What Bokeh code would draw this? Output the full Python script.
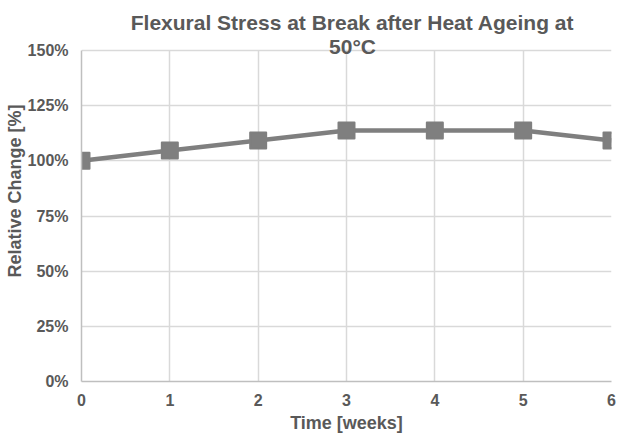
from bokeh.plotting import figure
from bokeh.models import FixedTicker, PrintfTickFormatter, Label, Range1d
from bokeh.embed import file_html
from bokeh.resources import INLINE

weeks = [0, 1, 2, 3, 4, 5, 6]
stress = [100, 104.7, 109.2, 113.7, 113.7, 113.7, 109.2]
y_ticks = [0, 25, 50, 75, 100, 125, 150]
title_lines = ["Flexural Stress at Break after Heat Ageing at", "50°C"]

TEXT = "#595959"
FONT = "Liberation Sans"

# frame spans the full canvas height so the two-line title can overlap it as in the reference
p = figure(width=617, height=439, output_backend="svg", toolbar_location=None,
           x_range=Range1d(0, 6), y_range=Range1d(0, 172.66),
           min_border_left=81, min_border_right=6, min_border_top=0, min_border_bottom=58)
p.outline_line_color = None

for ax in (p.xaxis[0], p.yaxis[0]):
    ax.axis_line_color = "#bfbfbf"
    ax.axis_line_width = 1.5
    ax.major_tick_line_color = None
    ax.minor_tick_line_color = None
    ax.major_tick_out = 0
    ax.major_tick_in = 0
    ax.minor_tick_out = 0
    ax.major_label_text_font = FONT
    ax.major_label_text_font_size = "16px"
    ax.major_label_text_font_style = "bold"
    ax.major_label_text_color = TEXT
    ax.axis_label_text_font = FONT
    ax.axis_label_text_font_size = "18px"
    ax.axis_label_text_font_style = "bold"
    ax.axis_label_text_color = TEXT

p.xaxis.ticker = FixedTicker(ticks=weeks)
p.yaxis.ticker = FixedTicker(ticks=y_ticks)
p.yaxis.bounds = (0, 150)
p.yaxis.formatter = PrintfTickFormatter(format="%d%%")
p.xaxis.axis_label = "Time [weeks]"
p.yaxis.axis_label = "Relative Change [%]"
p.xaxis.major_label_standoff = 12
p.yaxis.major_label_standoff = 13
p.xaxis.axis_label_standoff = 4
p.yaxis.axis_label_standoff = 0

p.xgrid.ticker = FixedTicker(ticks=weeks)
p.ygrid.ticker = FixedTicker(ticks=y_ticks)
p.xgrid.cross_bounds = (0, 150)
p.xgrid.grid_line_color = "#d9d9d9"
p.ygrid.grid_line_color = "#d9d9d9"
p.xgrid.grid_line_width = 1.5
p.ygrid.grid_line_width = 1.5

p.line(weeks, stress, line_color="#7f7f7f", line_width=4.5)
p.scatter(weeks, stress, marker="square", size=16, fill_color="#7f7f7f",
          line_color="#7f7f7f", line_width=2, line_join="round")

for i, t in enumerate(title_lines):
    p.add_layout(Label(x=271, y=359 - 24 * i, x_units="screen", y_units="screen",
                       text=t, text_align="center", text_baseline="alphabetic",
                       text_font=FONT, text_font_size="21px", text_font_style="bold",
                       text_color=TEXT))

open("out.html", "w").write(file_html(p, INLINE))
